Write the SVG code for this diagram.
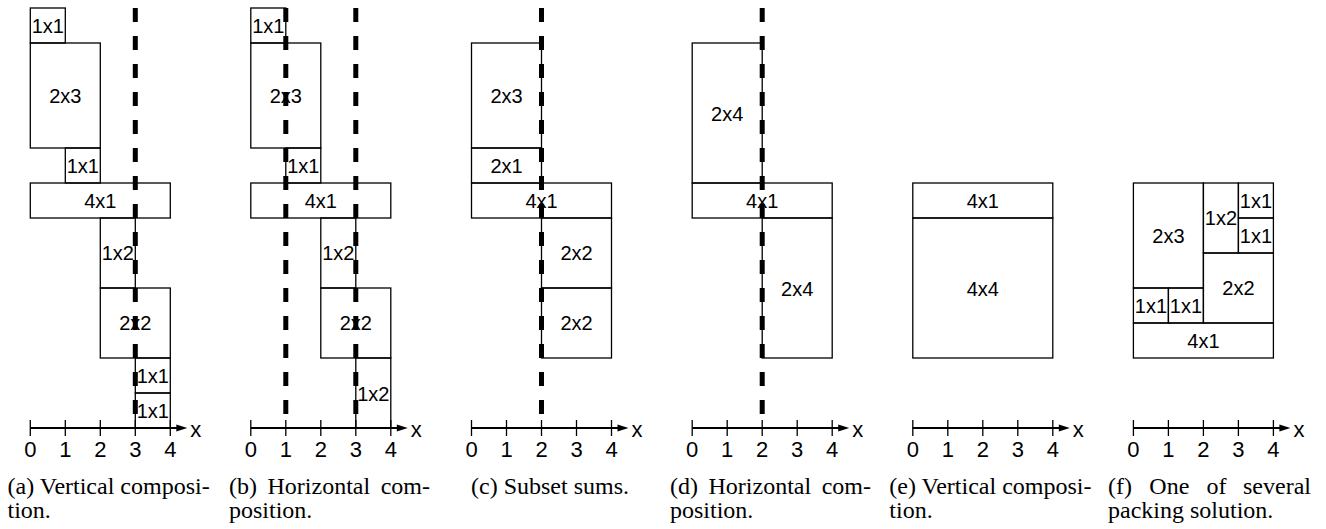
<svg xmlns="http://www.w3.org/2000/svg" width="1326" height="529" viewBox="0 0 1326 529">
<style>
.b{fill:none;stroke:#000;stroke-width:1.3}
.l{font-family:"Liberation Sans",Arial,sans-serif;font-size:20px;text-anchor:middle;fill:#000}
.d{stroke:#000;stroke-width:5;stroke-dasharray:14 14;fill:none}
.ax{stroke:#000;stroke-width:2;fill:none}
.tk{stroke:#000;stroke-width:1.3}
.n{font-family:"Liberation Sans",Arial,sans-serif;font-size:22px;text-anchor:middle;fill:#000}
.xl{font-family:"Liberation Sans",Arial,sans-serif;font-size:22px;fill:#000}
.c{font-family:"Liberation Serif","Times New Roman",serif;font-size:24px;fill:#000}
</style>
<defs>
<g id="axis">
<line class="ax" x1="0" y1="428" x2="148" y2="428"/>
<polygon points="146,424.5 157,428 146,431.5" fill="#000"/>
<line class="tk" x1="0" y1="420" x2="0" y2="436"/>
<line class="tk" x1="35" y1="420" x2="35" y2="436"/>
<line class="tk" x1="70" y1="420" x2="70" y2="436"/>
<line class="tk" x1="105" y1="420" x2="105" y2="436"/>
<line class="tk" x1="140" y1="420" x2="140" y2="436"/>
<text class="n" x="0" y="457">0</text>
<text class="n" x="35" y="457">1</text>
<text class="n" x="70" y="457">2</text>
<text class="n" x="105" y="457">3</text>
<text class="n" x="140" y="457">4</text>
<text class="xl" x="160" y="437">x</text>
</g>
</defs>

<!-- Panel a -->
<g id="panel-a" transform="translate(30.3,0)">
<g id="a-1x1-top"><rect class="b" x="0" y="8" width="35" height="35"/><text class="l" x="17.5" y="32.5">1x1</text></g>
<g id="a-2x3"><rect class="b" x="0" y="43" width="70" height="105"/><text class="l" x="35" y="103">2x3</text></g>
<g id="a-1x1-mid"><rect class="b" x="35" y="148" width="35" height="35"/><text class="l" x="52.5" y="172.5">1x1</text></g>
<g id="a-4x1"><rect class="b" x="0" y="183" width="140" height="35"/><text class="l" x="70" y="207.5">4x1</text></g>
<g id="a-1x2"><rect class="b" x="70" y="218" width="35" height="70"/><text class="l" x="87.5" y="260">1x2</text></g>
<g id="a-2x2"><rect class="b" x="70" y="288" width="70" height="70"/><text class="l" x="105" y="330">2x2</text></g>
<g id="a-1x1-b1"><rect class="b" x="105" y="358" width="35" height="35"/><text class="l" x="122.5" y="382.5">1x1</text></g>
<g id="a-1x1-b2"><rect class="b" x="105" y="393" width="35" height="35"/><text class="l" x="122.5" y="417.5">1x1</text></g>
<g id="a-cuts"><line class="d" x1="105" y1="8" x2="105" y2="414"/></g>
<use href="#axis"/>
</g>

<!-- Panel b -->
<g id="panel-b" transform="translate(250.8,0)">
<g id="b-1x1-top"><rect class="b" x="0" y="8" width="35" height="35"/><text class="l" x="17.5" y="32.5">1x1</text></g>
<g id="b-2x3"><rect class="b" x="0" y="43" width="70" height="105"/><text class="l" x="35" y="103">2x3</text></g>
<g id="b-1x1-mid"><rect class="b" x="35" y="148" width="35" height="35"/><text class="l" x="52.5" y="172.5">1x1</text></g>
<g id="b-4x1"><rect class="b" x="0" y="183" width="140" height="35"/><text class="l" x="70" y="207.5">4x1</text></g>
<g id="b-1x2-top"><rect class="b" x="70" y="218" width="35" height="70"/><text class="l" x="87.5" y="260">1x2</text></g>
<g id="b-2x2"><rect class="b" x="70" y="288" width="70" height="70"/><text class="l" x="105" y="330">2x2</text></g>
<g id="b-1x2-bot"><rect class="b" x="105" y="358" width="35" height="70"/><text class="l" x="122.5" y="400.5">1x2</text></g>
<g id="b-cuts"><line class="d" x1="35" y1="8" x2="35" y2="414"/><line class="d" x1="105" y1="8" x2="105" y2="414"/></g>
<use href="#axis"/>
</g>

<!-- Panel c -->
<g id="panel-c" transform="translate(471.5,0)">
<g id="c-2x3"><rect class="b" x="0" y="43" width="70" height="105"/><text class="l" x="35" y="103">2x3</text></g>
<g id="c-2x1"><rect class="b" x="0" y="148" width="70" height="35"/><text class="l" x="35" y="172.5">2x1</text></g>
<g id="c-4x1"><rect class="b" x="0" y="183" width="140" height="35"/><text class="l" x="70" y="207.5">4x1</text></g>
<g id="c-2x2-top"><rect class="b" x="70" y="218" width="70" height="70"/><text class="l" x="105" y="260">2x2</text></g>
<g id="c-2x2-bot"><rect class="b" x="70" y="288" width="70" height="70"/><text class="l" x="105" y="330">2x2</text></g>
<g id="c-cuts"><line class="d" x1="70" y1="8" x2="70" y2="414"/></g>
<use href="#axis"/>
</g>

<!-- Panel d -->
<g id="panel-d" transform="translate(692.2,0)">
<g id="d-2x4-top"><rect class="b" x="0" y="43" width="70" height="140"/><text class="l" x="35" y="120.5">2x4</text></g>
<g id="d-4x1"><rect class="b" x="0" y="183" width="140" height="35"/><text class="l" x="70" y="207.5">4x1</text></g>
<g id="d-2x4-bot"><rect class="b" x="70" y="218" width="70" height="140"/><text class="l" x="105" y="295.5">2x4</text></g>
<g id="d-cuts"><line class="d" x1="70" y1="8" x2="70" y2="414"/></g>
<use href="#axis"/>
</g>

<!-- Panel e -->
<g id="panel-e" transform="translate(912.8,0)">
<g id="e-4x1"><rect class="b" x="0" y="183" width="140" height="35"/><text class="l" x="70" y="207.5">4x1</text></g>
<g id="e-4x4"><rect class="b" x="0" y="218" width="140" height="140"/><text class="l" x="70" y="295.5">4x4</text></g>
<use href="#axis"/>
</g>

<!-- Panel f -->
<g id="panel-f" transform="translate(1133.4,0)">
<g id="f-2x3"><rect class="b" x="0" y="183" width="70" height="105"/><text class="l" x="35" y="243">2x3</text></g>
<g id="f-1x2"><rect class="b" x="70" y="183" width="35" height="70"/><text class="l" x="87.5" y="225">1x2</text></g>
<g id="f-1x1-a"><rect class="b" x="105" y="183" width="35" height="35"/><text class="l" x="122.5" y="207.5">1x1</text></g>
<g id="f-1x1-b"><rect class="b" x="105" y="218" width="35" height="35"/><text class="l" x="122.5" y="242.5">1x1</text></g>
<g id="f-2x2"><rect class="b" x="70" y="253" width="70" height="70"/><text class="l" x="105" y="295">2x2</text></g>
<g id="f-1x1-c"><rect class="b" x="0" y="288" width="35" height="35"/><text class="l" x="17.5" y="312.5">1x1</text></g>
<g id="f-1x1-d"><rect class="b" x="35" y="288" width="35" height="35"/><text class="l" x="52.5" y="312.5">1x1</text></g>
<g id="f-4x1"><rect class="b" x="0" y="323" width="140" height="35"/><text class="l" x="70" y="347.5">4x1</text></g>
<use href="#axis"/>
</g>

<!-- Captions -->
<g id="captions">
<text class="c" x="7.5" y="494">(a) Vertical composi-</text>
<text class="c" x="7.5" y="518">tion.</text>
<text class="c" y="494"><tspan x="229">(b)</tspan><tspan x="267.5">Horizontal</tspan></text>
<text class="c" x="430" y="494" text-anchor="end">com-</text>
<text class="c" x="229" y="518">position.</text>
<text class="c" x="550" y="494" text-anchor="middle">(c) Subset sums.</text>
<text class="c" y="494"><tspan x="670">(d)</tspan><tspan x="708.5">Horizontal</tspan></text>
<text class="c" x="871" y="494" text-anchor="end">com-</text>
<text class="c" x="670" y="518">position.</text>
<text class="c" x="889.3" y="494">(e) Vertical composi-</text>
<text class="c" x="889.3" y="518">tion.</text>
<text class="c" y="494"><tspan x="1108">(f)</tspan><tspan x="1149.3">One</tspan><tspan x="1206.6">of</tspan></text>
<text class="c" x="1311" y="494" text-anchor="end">several</text>
<text class="c" x="1108" y="518">packing solution.</text>
</g>
</svg>
